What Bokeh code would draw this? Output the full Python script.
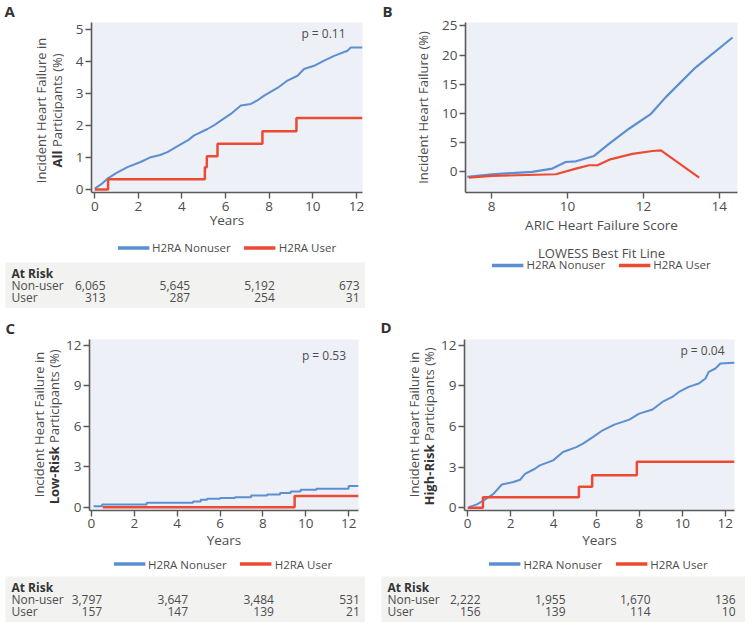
import math
from bokeh.plotting import figure
from bokeh.layouts import column, row
from bokeh.models import (Range1d, Label, Legend, LegendItem, FixedTicker,
                          Spacer, ColumnDataSource)
from bokeh.embed import file_html
from bokeh.resources import INLINE
from bokeh.core.properties import value

# ---------------- data ----------------
# Panel A: all participants (cumulative incidence, %)
a_nonuser_years = [0, 0.3, 0.58, 1.0, 1.5, 2.1, 2.57, 3.0, 3.33, 3.94, 4.3, 4.56, 5.17, 5.5,
                   5.78, 6.24, 6.7, 7.16, 7.5, 7.77, 8.38, 8.84, 9.3, 9.6, 10.06, 10.52,
                   10.98, 11.59, 11.74, 12.28]
a_nonuser_pct = [0.03, 0.17, 0.34, 0.52, 0.70, 0.86, 1.01, 1.08, 1.17, 1.41, 1.55, 1.69, 1.89,
                 2.02, 2.15, 2.36, 2.62, 2.67, 2.80, 2.93, 3.17, 3.40, 3.55, 3.76, 3.86, 4.02,
                 4.17, 4.33, 4.43, 4.43]
a_user_years = [0, 0.61, 5.05, 5.14, 5.63, 7.69, 9.25, 12.28]
a_user_pct = [0, 0.32, 0.70, 1.04, 1.43, 1.82, 2.23, 2.23]

# Panel B: LOWESS fit vs ARIC heart failure score
b_score_nonuser = [7.36, 8.0, 9.07, 9.6, 9.95, 10.22, 10.7, 11.1, 11.62, 12.2, 12.59, 13.38, 14.35]
b_nonuser_pct = [-0.85, -0.4, 0.0, 0.57, 1.7, 1.82, 2.73, 4.83, 7.39, 9.94, 12.8, 17.9, 23.0]
b_score_user = [7.4, 8.0, 9.69, 10.22, 10.57, 10.79, 11.1, 11.71, 12.24, 12.46, 13.47]
b_user_pct = [-0.97, -0.68, -0.4, 0.57, 1.14, 1.14, 2.1, 3.1, 3.58, 3.69, -0.97]

# Panel C: low-risk participants
c_nonuser_years = [0.1, 0.5, 2.58, 4.74, 5.1, 5.4, 6.0, 6.7, 7.45, 8.2, 8.8, 9.3, 9.76, 10.5, 12.0, 12.46]
c_nonuser_pct = [0.07, 0.2, 0.32, 0.42, 0.54, 0.62, 0.68, 0.74, 0.87, 0.94, 1.04, 1.16, 1.29, 1.36, 1.56, 1.56]
c_user_years = [0.53, 9.48, 12.46]
c_user_pct = [0.0, 0.82, 0.82]

# Panel D: high-risk participants
d_nonuser_years = [0.05, 0.43, 0.74, 1.2, 1.59, 2.13, 2.44, 2.67, 3.13, 3.36, 3.98, 4.44, 5.06,
                   5.37, 5.83, 6.29, 6.83, 7.53, 7.99, 8.61, 9.07, 9.53, 9.84, 10.3, 10.77,
                   11.08, 11.23, 11.54, 11.77, 12.43]
d_nonuser_pct = [0.05, 0.25, 0.54, 1.03, 1.72, 1.9, 2.07, 2.51, 2.88, 3.13, 3.5, 4.12, 4.48,
                 4.73, 5.22, 5.72, 6.14, 6.51, 6.95, 7.25, 7.81, 8.18, 8.55, 8.92, 9.17,
                 9.54, 10.03, 10.28, 10.65, 10.7]
d_user_years = [0, 0.71, 5.18, 5.8, 7.88, 12.43]
d_user_pct = [0, 0.77, 1.55, 2.4, 3.4, 3.4]

# numbers at risk
risk_years = [0, 4, 8, 12]
a_risk_nonuser = ["6,065", "5,645", "5,192", "673"]
a_risk_user = ["313", "287", "254", "31"]
c_risk_nonuser = ["3,797", "3,647", "3,484", "531"]
c_risk_user = ["157", "147", "139", "21"]
d_risk_nonuser = ["2,222", "1,955", "1,670", "136"]
d_risk_user = ["156", "139", "114", "10"]

km_xticks = [0, 2, 4, 6, 8, 10, 12]
a_yticks = [0, 1, 2, 3, 4, 5]
b_xticks = [8, 10, 12, 14]
b_yticks = [0, 5, 10, 15, 20, 25]
cd_yticks = [0, 3, 6, 9, 12]

# ---------------- style ----------------
FONT = "Open Sans"
BLUE = "#5b8fd1"
RED = "#ec4a32"
TXT = "#4d4d4d"
DARK = "#333333"
AXIS = "#5a5a5a"
PLOT_BG = "#eef0f7"
TABLE_BG = "#f2f2f0"


def base_fig(width, height, bl, br, bt, bb, xr, yr, xticks, yticks, xlabel,
             tick_standoff=3, lab_standoff=0):
    p = figure(width=width, height=height, x_range=Range1d(*xr), y_range=Range1d(*yr),
               output_backend="svg", toolbar_location=None, frame_align=False,
               min_border_left=bl, min_border_right=br, min_border_top=bt, min_border_bottom=bb,
               background_fill_color=PLOT_BG, border_fill_color="white",
               outline_line_color=None)
    p.grid.visible = False
    for ax in (p.xaxis[0], p.yaxis[0]):
        ax.axis_line_color = AXIS
        ax.axis_line_width = 1.6
        ax.major_tick_line_color = AXIS
        ax.major_tick_line_width = 1.4
        ax.major_tick_out = 6
        ax.major_tick_in = 0
        ax.minor_tick_line_color = None
        ax.major_label_text_font = FONT
        ax.major_label_text_font_size = "13.5px"
        ax.major_label_text_color = TXT
    p.xaxis.ticker = FixedTicker(ticks=xticks)
    p.yaxis.ticker = FixedTicker(ticks=yticks)
    p.xaxis.major_label_standoff = tick_standoff
    p.yaxis.major_label_standoff = 2
    p.xaxis.axis_label = xlabel
    p.xaxis.axis_label_text_font = FONT
    p.xaxis.axis_label_text_font_size = "13.5px"
    p.xaxis.axis_label_text_font_style = "normal"
    p.xaxis.axis_label_text_color = TXT
    p.xaxis.axis_label_standoff = lab_standoff
    return p


def plain_fig(width, height, bg="white"):
    f = figure(width=width, height=height, x_range=Range1d(0, width), y_range=Range1d(height, 0),
               output_backend="svg", toolbar_location=None, min_border=0, frame_align=False,
               x_axis_location=None, y_axis_location=None, background_fill_color=bg,
               border_fill_color=bg, outline_line_color=None)
    f.grid.visible = False
    return f


def gtext(f, x, y, s, size="13px", bold=False, align="center", angle=0.0, color=TXT):
    f.text(x=[x], y=[y], text=[s], angle=angle, text_font=value(FONT), text_font_size=size,
           text_font_style="bold" if bold else "normal", text_align=align,
           text_baseline="middle", text_color=color)


def plabel(p, x, y, text, size="12px"):
    p.add_layout(Label(x=x, y=y, x_units="screen", y_units="screen", text=text,
                       text_font=FONT, text_font_size=size, text_align="center",
                       text_baseline="middle", text_color=TXT))


def ylabel_fig(width, height, letter, lx, ly, x1, y1, x2, junction, bold_part, rest):
    f = plain_fig(width, height)
    gtext(f, lx, ly, letter, size="15px", bold=True, align="left", color=DARK)
    up = math.pi / 2
    gtext(f, x1, y1, "Incident Heart Failure in", angle=up)
    gtext(f, x2, junction, bold_part, bold=True, align="right", angle=up, color=DARK)
    gtext(f, x2, junction - 3.5, rest, align="left", angle=up)
    return f


def legend_fig(width, height, location="center", margin=0):
    f = plain_fig(width, height)
    # legend proxies (kept outside the visible frame)
    pb = f.line(x=[-200, -190], y=[-200, -190], line_color=BLUE, line_width=3.5)
    pr = f.line(x=[-200, -190], y=[-200, -190], line_color=RED, line_width=3.5)
    leg = Legend(items=[LegendItem(label="H2RA Nonuser", renderers=[pb]),
                        LegendItem(label="H2RA User", renderers=[pr])],
                 orientation="horizontal", location=location, glyph_width=32,
                 glyph_height=14, label_standoff=3, spacing=13, padding=0, margin=margin,
                 border_line_color=None, background_fill_alpha=0,
                 label_text_font=FONT, label_text_font_size="11.5px",
                 label_text_color=TXT, label_height=14)
    f.add_layout(leg, "center")
    return f


def risk_table(width, height, box_left, box_right, a0, a12, nonuser, user):
    s = (a12 - a0) / 12.0
    xs = (box_left - a0) / s
    xe = 12 + (box_right - a12) / s
    top = 1 - 11 / 12.0
    t = figure(width=width, height=height, x_range=Range1d(xs, xe),
               y_range=Range1d(top + height / 12.0, top),
               output_backend="svg", toolbar_location=None, min_border=0, frame_align=False,
               x_axis_location=None, y_axis_location=None,
               background_fill_color=TABLE_BG, border_fill_color=TABLE_BG,
               outline_line_color=None)
    t.grid.visible = False
    src = ColumnDataSource(dict(x=risk_years, nu=nonuser, u=user))
    common = dict(text_font=value(FONT), text_font_size="12px", text_baseline="middle")
    t.text(x="x", y=2, text="nu", source=src, text_align="right", text_color=TXT, **common)
    t.text(x="x", y=3, text="u", source=src, text_align="right", text_color=TXT, **common)
    t.text(x=[xs], y=[1], text=["At Risk"], x_offset=6, text_align="left",
           text_color=DARK, text_font_style="bold", **common)
    t.text(x=[xs, xs], y=[2, 3], text=["Non-user", "User"], x_offset=6, text_align="left",
           text_color=TXT, **common)
    return t


# ================= Row 1 =================
# ---- Panel A (x 0..375) ----
ylA = ylabel_fig(64, 236, "A", 4, 10, 40, 110, 56, 150, "All", "Participants (%)")
pA = base_fig(311, 236, 27, 13, 22, 44, (-0.15, 12.28), (-0.09, 5.21), km_xticks, a_yticks,
              "Years", tick_standoff=3, lab_standoff=-3)
pA.line(a_nonuser_years, a_nonuser_pct, line_color=BLUE, line_width=2)
pA.step(a_user_years, a_user_pct, mode="after", line_color=RED, line_width=2.5)
plabel(pA, 232, 159, "p = 0.11")
legA = legend_fig(271, 22)
tA = risk_table(360, 46, 5, 365, 105, 359, a_risk_nonuser, a_risk_user)
colA = column(row(ylA, pA),
              row(Spacer(width=91, height=22), legA),
              Spacer(width=10, height=4),
              row(Spacer(width=5, height=46), tA),
              Spacer(width=10, height=10))

# ---- Panel B (x 375..750) ----
ylB = plain_fig(58, 240)
gtext(ylB, 7, 10, "B", size="15px", bold=True, align="left", color=DARK)
gtext(ylB, 47, 107, "Incident Heart Failure (%)", angle=math.pi / 2)
pB = base_fig(317, 240, 32, 13, 22, 48, (7.31, 14.48), (-3.52, 25.57), b_xticks, b_yticks,
              "ARIC Heart Failure Score", tick_standoff=3, lab_standoff=2)
pB.line(b_score_nonuser, b_nonuser_pct, line_color=BLUE, line_width=2.2)
pB.line(b_score_user, b_user_pct, line_color=RED, line_width=2.2)
legB = legend_fig(272, 36, location="bottom_center", margin=4)
gtext(legB, 136, 12, "LOWESS Best Fit Line", size="13px")
colB = column(row(ylB, pB),
              row(Spacer(width=90, height=36), legB),
              Spacer(width=10, height=42))

# ================= Row 2 =================
# ---- Panel C ----
ylC = ylabel_fig(63, 237, "C", 5, 9, 38, 106, 53, 128, "Low-Risk", "Participants (%)")
pC = base_fig(312, 237, 24, 17, 21, 45, (-0.09, 12.46), (-0.25, 12.43), km_xticks, cd_yticks,
              "Years", tick_standoff=2, lab_standoff=0)
pC.step(c_nonuser_years, c_nonuser_pct, mode="after", line_color=BLUE, line_width=2)
pC.step(c_user_years, c_user_pct, mode="after", line_color=RED, line_width=2.5)
plabel(pC, 234.5, 155, "p = 0.53")
legC = legend_fig(271, 17)
tC = risk_table(360, 46, 5, 365, 101.7, 359.3, c_risk_nonuser, c_risk_user)
colC = column(row(ylC, pC),
              row(Spacer(width=87, height=17), legC),
              Spacer(width=10, height=4),
              row(Spacer(width=5, height=46), tC))

# ---- Panel D ----
ylD = ylabel_fig(63, 237, "D", 5, 8, 38, 106, 53, 126, "High-Risk", "Participants (%)")
pD = base_fig(312, 237, 24, 16, 21, 45, (-0.15, 12.43), (-0.2, 12.42), km_xticks, cd_yticks,
              "Years", tick_standoff=2, lab_standoff=0)
pD.line(d_nonuser_years, d_nonuser_pct, line_color=BLUE, line_width=2)
pD.step(d_user_years, d_user_pct, mode="after", line_color=RED, line_width=2.5)
plabel(pD, 238, 160, "p = 0.04")
legD = legend_fig(272, 17)
tD = risk_table(364, 46, 381, 745, 480, 735, d_risk_nonuser, d_risk_user)
colD = column(row(ylD, pD),
              row(Spacer(width=87, height=17), legD),
              Spacer(width=10, height=4),
              row(Spacer(width=6, height=46), tD))

page = column(row(colA, colB), row(colC, colD))

open("out.html", "w").write(file_html(page, INLINE))
